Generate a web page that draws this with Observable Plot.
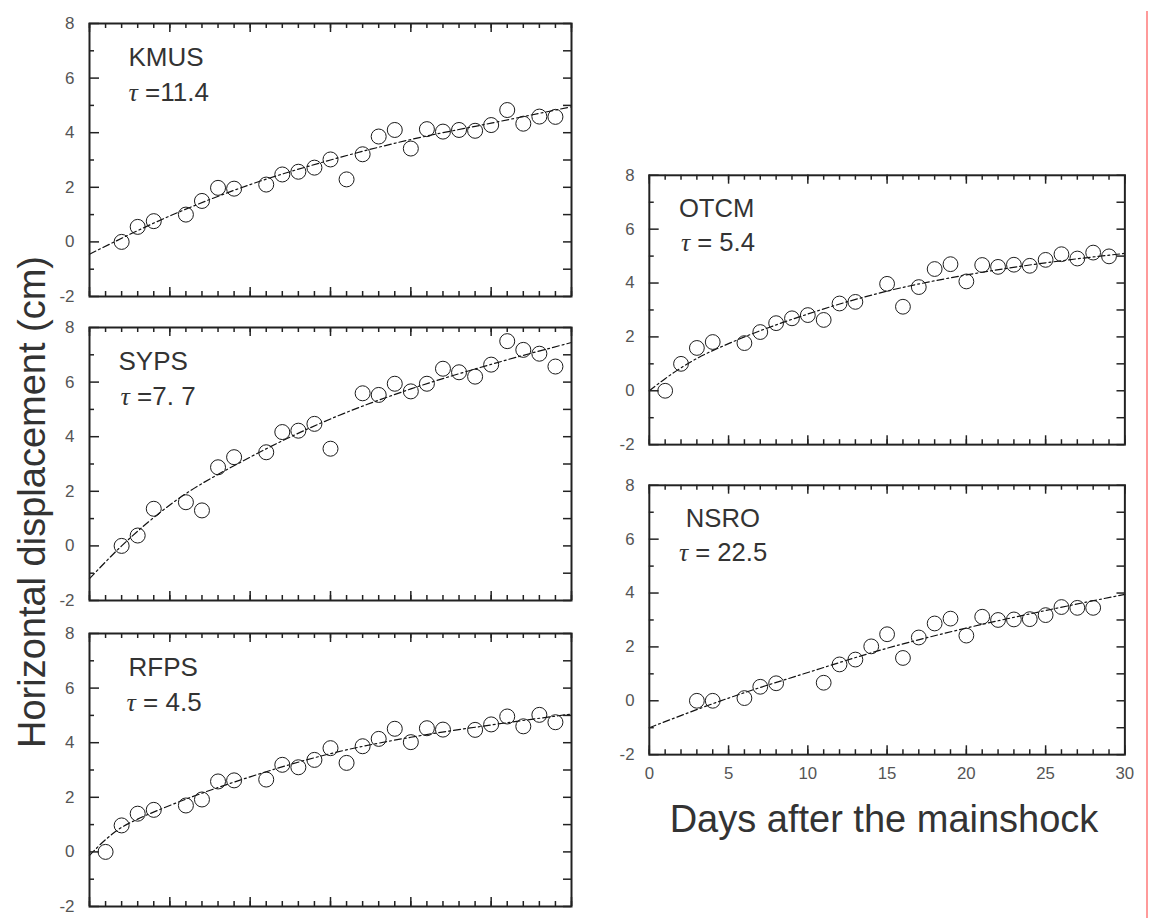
<!DOCTYPE html>
<html><head><meta charset="utf-8">
<script src="https://cdn.jsdelivr.net/npm/d3@7"></script>
<script src="https://cdn.jsdelivr.net/npm/@observablehq/plot@0.6"></script>
<style>
body{margin:0;background:#fff;}
#root{position:relative;width:1153px;height:918px;overflow:hidden;font-family:"Liberation Sans",Arial,Helvetica,sans-serif;}
.panel{position:absolute;}
.lab{position:absolute;white-space:nowrap;color:#333;line-height:1;}
</style></head><body><div id="root"></div>
<script>
// ---- data ----
const stations = ["KMUS", "SYPS", "RFPS", "OTCM", "NSRO"];
const tauLabels = ["τ =11.4", "τ =7. 7", "τ = 4.5", "τ = 5.4", "τ = 22.5"];
const xTickLabels = [0, 5, 10, 15, 20, 25, 30];
const yTickLabels = [-2, 0, 2, 4, 6, 8];
const yMinorTicks = [-1, 1, 3, 5, 7];
const xTitle = "Days after the mainshock";
const yTitle = "Horizontal displacement (cm)";

const kmusDays = [2,3,4,6,7,8,9,11,12,13,14,15,16,17,18,19,20,21,22,23,24,25,26,27,28,29];
const kmusVals = [0.0,0.55,0.76,1.0,1.5,1.98,1.95,2.1,2.47,2.57,2.72,3.02,2.29,3.21,3.86,4.1,3.42,4.13,4.04,4.1,4.07,4.28,4.83,4.33,4.59,4.58];
const kmusFitDays = [0,5,10,15,20,25,30];
const kmusFitVals = [-0.45,0.95,2.1,3.0,3.75,4.35,4.95];

const sypsDays = [2,3,4,6,7,8,9,11,12,13,14,15,17,18,19,20,21,22,23,24,25,26,27,28,29];
const sypsVals = [0.0,0.38,1.36,1.6,1.3,2.88,3.25,3.43,4.17,4.22,4.47,3.56,5.59,5.53,5.94,5.66,5.94,6.49,6.36,6.2,6.64,7.5,7.18,7.04,6.57];
const sypsFitDays = [0,2,5,10,15,20,25,30];
const sypsFitVals = [-1.2,0.0,1.5,3.25,4.65,5.75,6.65,7.45];

const rfpsDays = [1,2,3,4,6,7,8,9,11,12,13,14,15,16,17,18,19,20,21,22,24,25,26,27,28,29];
const rfpsVals = [0.0,0.97,1.4,1.54,1.7,1.92,2.58,2.62,2.65,3.19,3.1,3.37,3.8,3.26,3.87,4.14,4.51,4.02,4.53,4.48,4.47,4.67,4.96,4.6,5.02,4.75];
const rfpsFitDays = [0,1,2,3,5,10,15,20,25,30];
const rfpsFitVals = [-0.13,0.45,0.9,1.2,1.7,2.75,3.6,4.2,4.65,5.05];

const otcmDays = [1,2,3,4,6,7,8,9,10,11,12,13,15,16,17,18,19,20,21,22,23,24,25,26,27,28,29];
const otcmVals = [0.0,1.0,1.59,1.81,1.77,2.18,2.51,2.69,2.81,2.63,3.24,3.3,3.97,3.12,3.85,4.52,4.7,4.06,4.67,4.6,4.68,4.64,4.86,5.07,4.91,5.13,4.99];
const otcmFitDays = [0,1,2,3,5,10,15,20,25,30];
const otcmFitVals = [0.0,0.45,0.85,1.2,1.75,2.85,3.7,4.3,4.75,5.1];

const nsroDays = [3,4,6,7,8,11,12,13,14,15,16,17,18,19,20,21,22,23,24,25,26,27,28];
const nsroVals = [0.0,0.0,0.1,0.52,0.65,0.67,1.35,1.53,2.02,2.47,1.59,2.35,2.87,3.05,2.42,3.12,3.0,3.02,3.03,3.18,3.48,3.45,3.45];
const nsroFitDays = [0,5,10,15,20,25,30];
const nsroFitVals = [-1.0,0.1,1.05,1.95,2.7,3.35,3.95];

// ---- layout ----
const root = document.getElementById("root");
const INK = "#222";
const xMinor = d3.range(0, 31);
const yAll = d3.range(-2, 9);
const FW = 482, FH = 273; // frame size in px

// inward ticks on all four sides, via tick marks with insets
function tickMarks() {
  const s = {stroke: INK, strokeWidth: 1.5};
  return [
    Plot.tickY(yTickLabels, {y: d => d, insetRight: FW - 10, ...s}),
    Plot.tickY(yMinorTicks, {y: d => d, insetRight: FW - 5, ...s}),
    Plot.tickY(yAll, {y: d => d, insetLeft: FW - 8, ...s}),
    Plot.tickX(xTickLabels, {x: d => d, insetBottom: FH - 9, ...s}),
    Plot.tickX(xMinor, {x: d => d, insetBottom: FH - 5, ...s}),
    Plot.tickX(xTickLabels, {x: d => d, insetTop: FH - 9, ...s}),
    Plot.tickX(xMinor, {x: d => d, insetTop: FH - 5, ...s})
  ];
}

function panel(p) {
  const pts = p.days.map((d, i) => ({day: d, disp: p.vals[i]}));
  const fit = p.fitDays.map((d, i) => ({day: d, disp: p.fitVals[i]}));
  const mt = 15, mb = p.xlabels ? 40 : 10;
  const marks = [
    Plot.line(fit, {x: "day", y: "disp", curve: "monotone-x", stroke: "#111", strokeWidth: 1.2, strokeDasharray: "7,3,2,3"}),
    Plot.dot(pts, {x: "day", y: "disp", r: 7.5, stroke: "#1a1a1a", strokeWidth: 1, fill: "none"}),
    Plot.axisY({anchor: "left", ticks: yTickLabels, tickSize: 0, tickPadding: 15, fontSize: 17, fill: "#555", label: null, tickFormat: d => String(d)}),
    ...tickMarks(),
    Plot.frame({stroke: INK, strokeWidth: 2}),
    Plot.text([p.name], {text: d => d, frameAnchor: "top-left", dx: p.nameDx, dy: 42, lineAnchor: "bottom", textAnchor: "start", fontSize: 26, fill: "#333"}),
    Plot.text([p.tau], {text: d => d, frameAnchor: "top-left", dx: p.tauDx, dy: 77, lineAnchor: "bottom", textAnchor: "start", fontSize: 26, fill: "#333"})
  ];
  if (p.xlabels) marks.push(Plot.axisX({anchor: "bottom", ticks: xTickLabels, tickSize: 0, tickPadding: 13, fontSize: 17, fill: "#555", label: null, tickFormat: d => String(d)}));
  const svg = Plot.plot({
    width: 89 + FW + 29, height: mt + FH + mb,
    marginLeft: 89, marginRight: 29, marginTop: mt, marginBottom: mb,
    x: {domain: [0, 30], axis: p.xlabels ? undefined : null},
    y: {domain: [-2, 8]},
    style: {fontFamily: '"Liberation Sans", Arial, Helvetica, sans-serif', background: "transparent", overflow: "visible"},
    marks
  });
  // tau glyph in serif italic
  svg.querySelectorAll("text").forEach(t => {
    const s = t.textContent;
    if (s.startsWith("τ")) {
      t.setAttribute("xml:space", "preserve");
      t.textContent = "";
      const a = document.createElementNS("http://www.w3.org/2000/svg", "tspan");
      a.textContent = "τ";
      a.setAttribute("font-family", '"Liberation Serif", "DejaVu Serif", serif');
      a.setAttribute("font-style", "italic");
      const b = document.createElementNS("http://www.w3.org/2000/svg", "tspan");
      b.textContent = s.slice(1);
      b.setAttribute("style", "white-space:pre");
      t.appendChild(a); t.appendChild(b);
    }
  });
  const div = document.createElement("div");
  div.className = "panel";
  div.style.left = p.left + "px";
  div.style.top = (p.frameTop - mt) + "px";
  div.appendChild(svg);
  root.appendChild(div);
}

const datasets = [
  {days: kmusDays, vals: kmusVals, fitDays: kmusFitDays, fitVals: kmusFitVals},
  {days: sypsDays, vals: sypsVals, fitDays: sypsFitDays, fitVals: sypsFitVals},
  {days: rfpsDays, vals: rfpsVals, fitDays: rfpsFitDays, fitVals: rfpsFitVals},
  {days: otcmDays, vals: otcmVals, fitDays: otcmFitDays, fitVals: otcmFitVals},
  {days: nsroDays, vals: nsroVals, fitDays: nsroFitDays, fitVals: nsroFitVals}
];
const layout = [
  {left: 0, frameTop: 23, nameDx: 39, tauDx: 39},
  {left: 0, frameTop: 327, nameDx: 29, tauDx: 31},
  {left: 0, frameTop: 633, nameDx: 39, tauDx: 37},
  {left: 561, frameTop: 175, nameDx: 30, tauDx: 32},
  {left: 561, frameTop: 485, nameDx: 37, tauDx: 30, xlabels: true}
];
stations.forEach((name, i) => panel({...datasets[i], ...layout[i], name, tau: tauLabels[i]}));

// axis titles
const yl = document.createElement("div");
yl.className = "lab";
yl.textContent = yTitle;
yl.style.fontSize = "38px";
yl.style.left = "32px"; yl.style.top = "502px";
yl.style.transform = "translate(-50%,-50%) rotate(-90deg)";
root.appendChild(yl);

const xl = document.createElement("div");
xl.className = "lab";
xl.textContent = xTitle;
xl.style.fontSize = "38px";
xl.style.lineHeight = "38px";
xl.style.left = "884px"; xl.style.top = "800px";
xl.style.transform = "translateX(-50%)";
root.appendChild(xl);

// thin red edge line seen at the right of the reference
const rl = document.createElement("div");
rl.style.cssText = "position:absolute;left:1146px;top:11px;width:2px;height:907px;background:#ff9a9a;";
root.appendChild(rl);
</script></body></html>
